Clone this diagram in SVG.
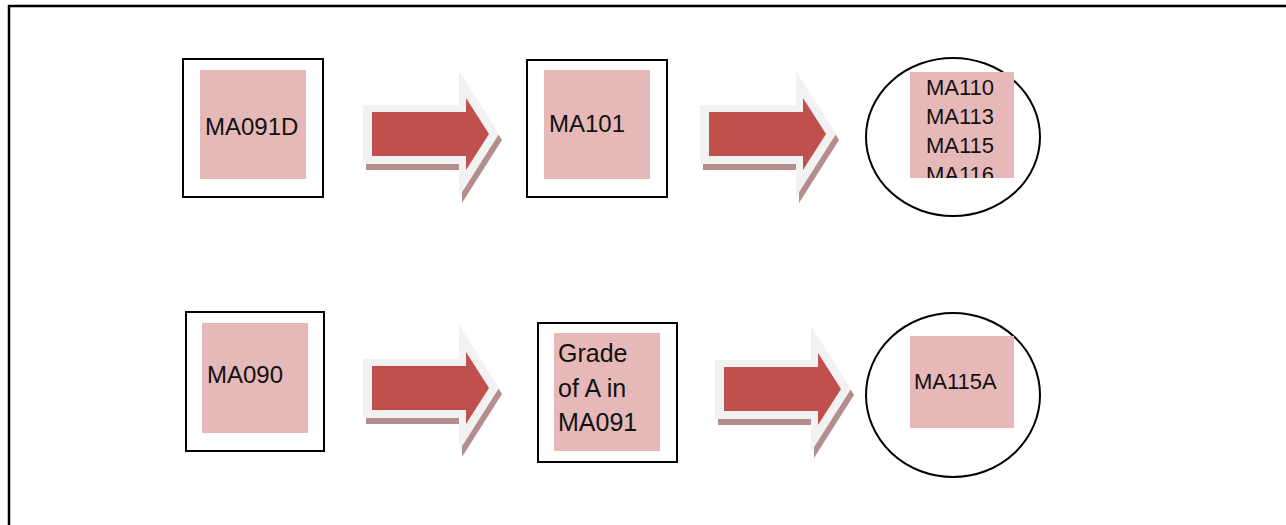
<svg xmlns="http://www.w3.org/2000/svg" xmlns:xlink="http://www.w3.org/1999/xlink" width="1286" height="525" viewBox="0 0 1286 525">
  <style>
    .frame { fill: none; stroke: #000; stroke-width: 2.5; }
    .box { fill: #fff; stroke: #000; stroke-width: 2; }
    .oval { fill: #fff; stroke: #000; stroke-width: 2; }
    .pad { fill: #e6b8b7; }
    .label { font-family: "Liberation Sans", Arial, sans-serif; fill: #111; }
    .arrow-shadow { fill: #b38e8d; }
    .arrow-rim { fill: #f2f2f2; }
    .arrow-body { fill: #c0504d; }
  </style>
  <defs>
    <!-- block arrow: shadow, light rim, red body; origin = top-left of the rim's shaft -->
    <g id="blockArrow">
      <polygon class="arrow-shadow" transform="translate(3,6)" points="0,0 96,0 96,-34 136,29 96,92 96,59 0,59"/>
      <polygon class="arrow-rim" points="0,0 96,0 96,-34 136,29 96,92 96,59 0,59"/>
      <polygon class="arrow-body" points="9,7 103,7 103,-7 126,29 103,65 103,51 9,51"/>
    </g>
    <clipPath id="listClip">
      <rect x="910" y="72" width="104" height="106"/>
    </clipPath>
  </defs>

  <rect width="1286" height="525" fill="#fff"/>

  <!-- page frame (top and left edges) -->
  <polyline class="frame" points="9,525 9,6 1286,6"/>

  <g id="connectors">
    <use xlink:href="#blockArrow" x="363" y="105"/>
    <use xlink:href="#blockArrow" x="700" y="105"/>
    <use xlink:href="#blockArrow" x="363" y="359"/>
    <use xlink:href="#blockArrow" x="715" y="360"/>
  </g>

  <g id="node-ma091d">
    <rect class="box" x="183" y="59" width="140" height="138"/>
    <rect class="pad" x="200" y="70" width="106" height="109"/>
    <text class="label" x="205" y="135" font-size="24">MA091D</text>
  </g>

  <g id="node-ma101">
    <rect class="box" x="527" y="60" width="140" height="137"/>
    <rect class="pad" x="544" y="70" width="106" height="109"/>
    <text class="label" x="549" y="132" font-size="24">MA101</text>
  </g>

  <g id="node-ma110-list">
    <ellipse class="oval" cx="953" cy="137" rx="87" ry="79"/>
    <rect class="pad" x="910" y="72" width="104" height="106"/>
    <g clip-path="url(#listClip)">
      <text class="label" font-size="22">
        <tspan x="926" y="95">MA110</tspan>
        <tspan x="926" y="124">MA113</tspan>
        <tspan x="926" y="153">MA115</tspan>
        <tspan x="926" y="182">MA116</tspan>
      </text>
    </g>
  </g>

  <g id="node-ma090">
    <rect class="box" x="186" y="312" width="138" height="139"/>
    <rect class="pad" x="202" y="323" width="106" height="110"/>
    <text class="label" x="207" y="383" font-size="24">MA090</text>
  </g>

  <g id="node-grade-a">
    <rect class="box" x="538" y="323" width="139" height="139"/>
    <rect class="pad" x="554" y="333" width="106" height="118"/>
    <text class="label" font-size="25">
      <tspan x="558" y="362">Grade</tspan>
      <tspan x="558" y="397">of A in</tspan>
      <tspan x="558" y="431">MA091</tspan>
    </text>
  </g>

  <g id="node-ma115a">
    <ellipse class="oval" cx="953" cy="395" rx="87" ry="82"/>
    <rect class="pad" x="910" y="336" width="104" height="92"/>
    <text class="label" x="914" y="389" font-size="22">MA115A</text>
  </g>
</svg>
